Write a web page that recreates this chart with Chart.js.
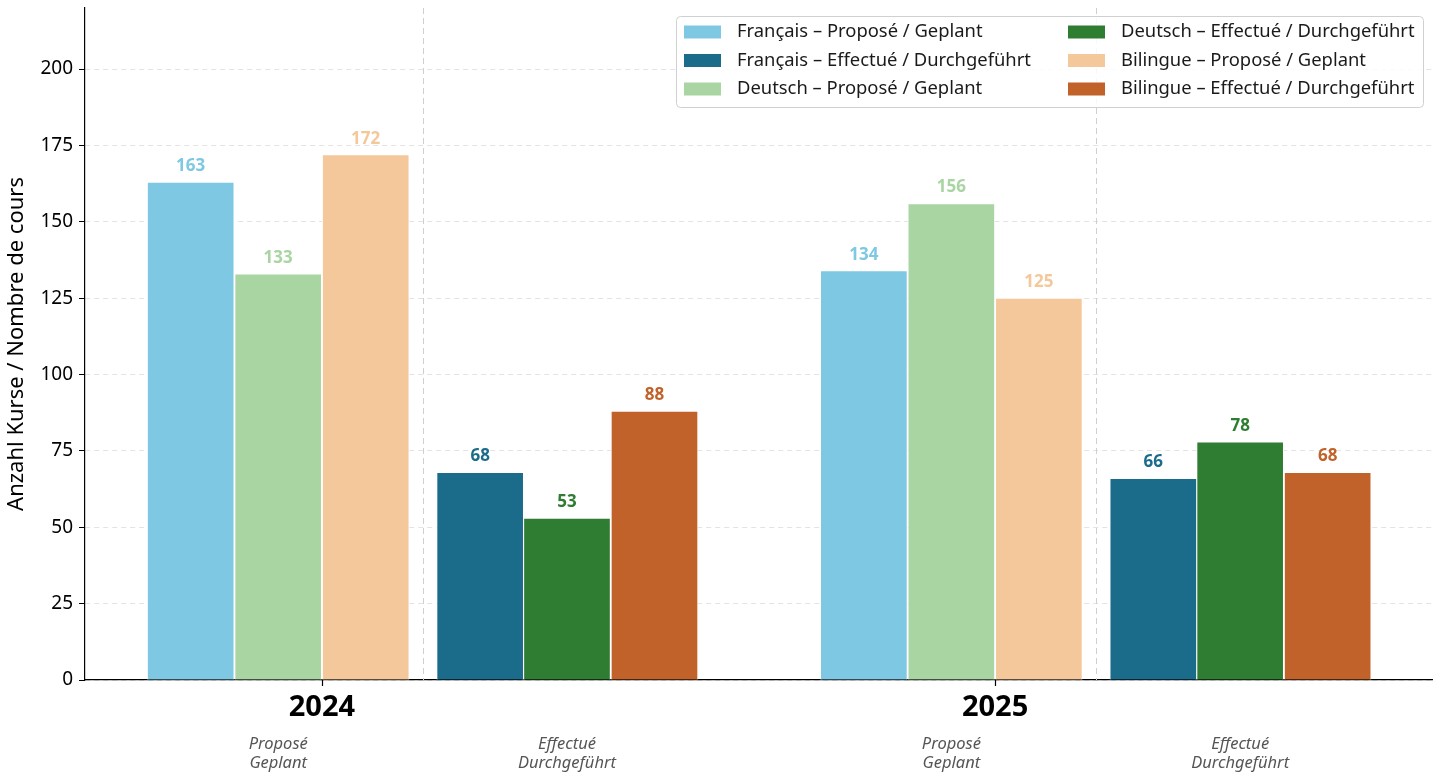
<!DOCTYPE html>
<html>
<head>
<meta charset="utf-8">
<script src="https://cdn.jsdelivr.net/npm/chart.js@4.4.1/dist/chart.umd.min.js"></script>
<style>
html, body { margin: 0; padding: 0; background: #fff; }
</style>
</head>
<body>
<canvas id="kursChart" width="1442" height="775"></canvas>
<script>
// Werte / valeurs
var years = ['2024', '2025'];
var phaseLabels = [['Proposé', 'Geplant'], ['Effectué', 'Durchgeführt']];
var yTicks = [0, 25, 50, 75, 100, 125, 150, 175, 200];

var francaisPropose = [163, 134];
var francaisEffectue = [68, 66];
var deutschPropose = [133, 156];
var deutschEffectue = [53, 78];
var bilinguePropose = [172, 125];
var bilingueEffectue = [88, 68];

// layout (offset from the year position, in x units)
var offProp = [-0.195, -0.065, 0.065];
var offEff = [0.235, 0.364, 0.494];
var sepOffset = 0.15;
var FONT = '"Noto Sans", "Open Sans", sans-serif';

function pts(values, off) {
    return values.map(function(v, i) { return { x: i + off, y: v }; });
}

function ds(label, values, off, color) {
    return {
        label: label,
        data: pts(values, off),
        backgroundColor: color,
        borderColor: '#ffffff',
        borderWidth: 1,
        barThickness: 87,
        grouped: false
    };
}

var datasets = [
    ds('Français – Proposé / Geplant', francaisPropose, offProp[0], '#7ec8e3'),
    ds('Français – Effectué / Durchgeführt', francaisEffectue, offEff[0], '#1b6b8a'),
    ds('Deutsch – Proposé / Geplant', deutschPropose, offProp[1], '#a8d5a2'),
    ds('Deutsch – Effectué / Durchgeführt', deutschEffectue, offEff[1], '#2e7d32'),
    ds('Bilingue – Proposé / Geplant', bilinguePropose, offProp[2], '#f4c89a'),
    ds('Bilingue – Effectué / Durchgeführt', bilingueEffectue, offEff[2], '#c0622a')
];

// dashed separators between Proposé and Effectué
var separatorPlugin = {
    id: 'separators',
    beforeDatasetsDraw: function(chart) {
        var ctx = chart.ctx, a = chart.chartArea, xs = chart.scales.x;
        ctx.save();
        ctx.strokeStyle = '#cfcfcf';
        ctx.lineWidth = 1;
        ctx.setLineDash([6, 4]);
        years.forEach(function(y, i) {
            var px = Math.round(xs.getPixelForValue(i + sepOffset)) + 0.5;
            ctx.beginPath();
            ctx.moveTo(px, a.top);
            ctx.lineTo(px, a.bottom);
            ctx.stroke();
        });
        ctx.restore();
    }
};

// value labels + phase labels under the axis
var labelPlugin = {
    id: 'labels',
    afterDatasetsDraw: function(chart) {
        var ctx = chart.ctx, a = chart.chartArea, xs = chart.scales.x;
        ctx.save();
        ctx.font = 'bold 17px ' + FONT;
        ctx.textAlign = 'center';
        ctx.textBaseline = 'alphabetic';
        chart.data.datasets.forEach(function(d, di) {
            var meta = chart.getDatasetMeta(di);
            meta.data.forEach(function(el, i) {
                ctx.fillStyle = d.backgroundColor;
                ctx.fillText(String(d.data[i].y), el.x, el.y - 11);
            });
        });
        ctx.font = 'italic 16.5px ' + FONT;
        ctx.fillStyle = '#555555';
        ctx.textBaseline = 'middle';
        years.forEach(function(y, i) {
            var centers = [i + offProp[1], i + offEff[1]];
            centers.forEach(function(c, p) {
                var px = xs.getPixelForValue(c);
                ctx.fillText(phaseLabels[p][0], px, a.bottom + 64);
                ctx.fillText(phaseLabels[p][1], px, a.bottom + 83);
            });
        });
        // small tick marks under each year
        ctx.strokeStyle = '#000';
        ctx.lineWidth = 1.2;
        years.forEach(function(y, i) {
            var px = Math.round(xs.getPixelForValue(i)) + 0.5;
            ctx.beginPath();
            ctx.moveTo(px, a.bottom);
            ctx.lineTo(px, a.bottom + 6);
            ctx.stroke();
        });
        ctx.restore();
    }
};

// matplotlib-like legend box, column-first
var legendPlugin = {
    id: 'boxLegend',
    afterDraw: function(chart) {
        var ctx = chart.ctx, a = chart.chartArea;
        var bx = a.right - 756, by = a.top + 8, bw = 747, bh = 91;
        ctx.save();
        ctx.beginPath();
        ctx.roundRect(bx + 0.5, by + 0.5, bw, bh, 4);
        ctx.fillStyle = 'rgba(255,255,255,0.85)';
        ctx.fill();
        ctx.strokeStyle = '#d0d0d0';
        ctx.lineWidth = 1;
        ctx.stroke();
        ctx.font = '18.4px ' + FONT;
        ctx.textBaseline = 'middle';
        ctx.textAlign = 'left';
        chart.data.datasets.forEach(function(d, i) {
            var col = Math.floor(i / 3), row = i % 3;
            var px = bx + 8 + col * 384;
            var cy = by + 16 + row * 28.5;
            ctx.fillStyle = d.backgroundColor;
            ctx.fillRect(px, cy - 6.5, 37, 13);
            ctx.fillStyle = '#1a1a1a';
            ctx.fillText(d.label, px + 53, cy);
        });
        ctx.restore();
    }
};

var ctx = document.getElementById('kursChart').getContext('2d');
var kursChart = new Chart(ctx, {
    type: 'bar',
    data: { datasets: datasets },
    plugins: [separatorPlugin, labelPlugin, legendPlugin],
    options: {
        responsive: false,
        animation: false,
        layout: { padding: { top: 8, right: 10, left: 0, bottom: 0 } },
        plugins: {
            legend: { display: false },
            tooltip: { enabled: false }
        },
        scales: {
            x: {
                type: 'linear',
                offset: false,
                min: -0.352,
                max: 1.649,
                afterBuildTicks: function(scale) {
                    scale.ticks = years.map(function(y, i) { return { value: i }; });
                },
                afterFit: function(scale) {
                    scale.height = 95;
                    scale.paddingLeft = 0;
                    scale.paddingRight = 0;
                },
                ticks: {
                    autoSkip: false,
                    maxRotation: 0,
                    padding: 10,
                    color: '#000',
                    font: { family: FONT, size: 29, weight: 'bold' },
                    callback: function(v) { return years[Math.round(v)]; }
                },
                grid: {
                    offset: false,
                    drawOnChartArea: false,
                    drawTicks: false
                },
                border: { display: true, color: '#000', width: 1.2 }
            },
            y: {
                min: 0,
                max: 220,
                afterBuildTicks: function(scale) {
                    scale.ticks = yTicks.map(function(v) { return { value: v }; });
                },
                afterFit: function(scale) {
                    scale.width = 85;
                    scale.paddingTop = 0;
                    scale.paddingBottom = 0;
                },
                ticks: {
                    padding: 6,
                    color: '#000',
                    font: { family: FONT, size: 19 }
                },
                grid: {
                    color: '#e3e3e3',
                    lineWidth: 1,
                    tickLength: 6,
                    tickColor: '#000',
                    tickBorderDash: []
                },
                border: { display: true, color: '#000', width: 1.2, dash: [5, 4] },
                title: {
                    display: true,
                    text: 'Anzahl Kurse / Nombre de cours',
                    color: '#000',
                    padding: { top: 4, bottom: 0 },
                    font: { family: FONT, size: 22 }
                }
            }
        }
    }
});
</script>
</body>
</html>
